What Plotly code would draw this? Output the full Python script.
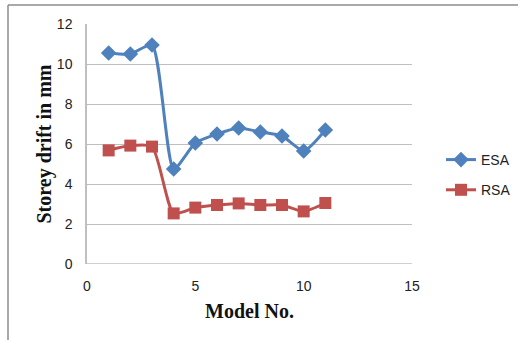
import plotly.graph_objects as go

models = [1, 2, 3, 4, 5, 6, 7, 8, 9, 10, 11]
esa = [10.55, 10.5, 10.95, 4.75, 6.05, 6.5, 6.8, 6.6, 6.4, 5.65, 6.7]
rsa = [5.68, 5.92, 5.87, 2.53, 2.82, 2.95, 3.03, 2.95, 2.95, 2.63, 3.05]

W, H = 518, 340
L, R, T, B = 87, 106, 24, 76
pw, ph = W - L - R, H - T - B

fig = go.Figure()
fig.add_trace(go.Scatter(
    x=models, y=esa, name="ESA", mode="lines+markers", legendgroup="esa",
    line=dict(color="#4F81BD", width=3, shape="spline", smoothing=0.6),
    marker=dict(symbol="diamond", size=12, color="#4F81BD"),
))
fig.add_trace(go.Scatter(
    x=models, y=rsa, name="RSA", mode="lines+markers", legendgroup="rsa",
    line=dict(color="#C0504D", width=3, shape="spline", smoothing=0.6),
    marker=dict(symbol="square", size=12, color="#C0504D"),
))

# outer frame (top and left edges)
fx = (8 - L) / pw
fy = 1 + (T - 5) / ph
fig.add_shape(type="line", xref="paper", yref="paper", x0=fx, x1=(W - L) / pw + 0.01,
              y0=fy, y1=fy, line=dict(color="#8c8c8c", width=1.5))
fig.add_shape(type="line", xref="paper", yref="paper", x0=fx, x1=fx,
              y0=fy, y1=-(B + 5) / ph, line=dict(color="#8c8c8c", width=1.5))

fig.update_layout(
    width=W, height=H, margin=dict(l=L, r=R, t=T, b=B, autoexpand=False),
    paper_bgcolor="white", plot_bgcolor="white",
    showlegend=True,
    legend=dict(x=(441 - L) / pw, y=(H - B - 144) / ph, xanchor="left", yanchor="top",
                font=dict(family="Liberation Sans", size=14, color="#222"),
                tracegroupgap=9, itemwidth=30),
    xaxis=dict(range=[0, 15], tickvals=[0, 5, 10, 15], showgrid=False, zeroline=False,
               showline=False, ticks="", ticklabelstandoff=12,
               tickfont=dict(family="Liberation Sans", size=14, color="#222"),
               title=dict(text="Model No.", standoff=10,
                          font=dict(family="Liberation Serif", size=20, color="#111",
                                    weight="bold"))),
    yaxis=dict(range=[0, 12], tickvals=[0, 2, 4, 6, 8, 10, 12], showgrid=True,
               gridcolor="#bfbfbf", gridwidth=1, zeroline=False,
               showline=True, linecolor="#bfbfbf", linewidth=1.5, ticks="",
               ticklabelstandoff=10,
               tickfont=dict(family="Liberation Sans", size=14, color="#222"),
               title=dict(text="Storey drift in mm", standoff=0,
                          font=dict(family="Liberation Serif", size=20, color="#111",
                                    weight="bold"))),
)
# baseline at y = 0
fig.add_shape(type="line", xref="paper", yref="y", x0=0, x1=1, y0=0, y1=0,
              line=dict(color="#bfbfbf", width=1.5))

fig.write_html("out.html")
